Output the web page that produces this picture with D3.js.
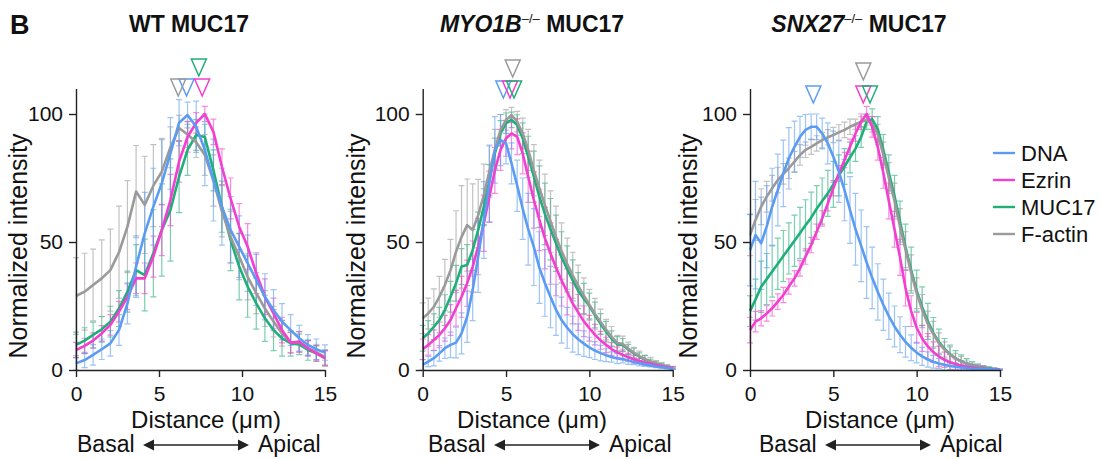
<!DOCTYPE html>
<html>
<head>
<meta charset="utf-8">
<script src="https://cdn.jsdelivr.net/npm/d3@7"></script>
<style>
body { margin: 0; background: #fff; }
svg { font-family: "Liberation Sans", Arial, sans-serif; }
</style>
</head>
<body>
<svg id="chart" width="1100" height="459"></svg>
<script>
// line-scan profiles, mean and SD per channel
const channels = ["DNA", "Ezrin", "MUC17", "F-actin"];
const channelColors = ["#5b9cf2", "#f23fd0", "#1faf78", "#9a9a9a"];
const drawOrder = ["MUC17", "F-actin", "Ezrin", "DNA"];

// WT: 30 samples
const distWT = [0, 0.52, 1.03, 1.55, 2.07, 2.59, 3.10, 3.62, 4.14, 4.66, 5.17, 5.69, 6.21, 6.72, 7.24,
    7.76, 8.28, 8.79, 9.31, 9.83, 10.34, 10.86, 11.38, 11.90, 12.41, 12.93, 13.45, 13.97, 14.48, 15];
const wtDNA = [2.6, 3.9, 5.9, 8.1, 10.4, 15.6, 26, 40.4, 53.4, 63.8, 73, 84.6, 96.6, 99.6, 95, 86, 74.2, 63.8, 54.7, 48.2, 41.7, 35.2, 28.6, 23.4, 18.9, 15.6, 12.4, 9.8, 8.1, 6.8];
const wtDNAsd = [3, 3, 4, 4, 5, 6, 8, 12, 16, 15, 17, 14, 9, 5, 10, 14, 16, 15, 13, 12, 11, 10, 9, 8, 7, 6, 5, 4, 4, 3];
const wtEzrin = [7.8, 9.4, 11.5, 14.3, 17.6, 22.8, 28.6, 35.8, 35.8, 44.3, 54.7, 66.4, 81.4, 91.1, 96.5, 100, 93, 79.4, 67, 56, 48.2, 37.8, 28.6, 22.1, 15.6, 10.7, 11, 8.5, 6.5, 4.6];
const wtEzrinSd = [3, 3, 3, 3, 4, 4, 5, 6, 6, 8, 10, 10, 8, 6, 4, 3, 5, 7, 8, 9, 9, 8, 7, 6, 5, 4, 4, 3, 3, 3];
const wtMUC17 = [9.8, 11.5, 13.7, 15.9, 18.9, 24, 30.6, 39, 37.1, 45.6, 54.7, 62.5, 75.5, 86, 91.8, 91, 78, 63.8, 50.8, 40.4, 32.6, 26, 20.2, 15.6, 12.4, 10.4, 10, 7.8, 6.5, 4.6];
const wtMUC17sd = [5, 5, 5, 5, 6, 7, 8, 10, 14, 17, 18, 20, 14, 10, 6, 5, 8, 10, 12, 13, 12, 10, 9, 8, 7, 5, 4, 4, 3, 3];
const wtFactin = [28.9, 30.6, 33.2, 35.8, 39, 46, 56, 69.7, 64.5, 72, 77.5, 87, 94.5, 92, 89, 84, 74, 62, 52, 44.3, 36.4, 30, 24, 18.9, 14.3, 10.7, 11, 8.5, 7, 5];
const wtFactinSd = [15, 15, 14, 15, 16, 18, 18, 18, 19, 16, 13, 8, 5, 5, 6, 8, 10, 10, 10, 9, 9, 8, 7, 6, 5, 4, 4, 3, 3, 3];
const wtPeaks = [6.66, 7.6, 7.4, 6.16];

// knockouts: 46 samples
const distKO = [0, 0.33, 0.67, 1, 1.33, 1.67, 2, 2.33, 2.67, 3, 3.33, 3.67, 4, 4.33, 4.67, 5, 5.33, 5.67, 6, 6.33,
    6.67, 7, 7.33, 7.67, 8, 8.33, 8.67, 9, 9.33, 9.67, 10, 10.33, 10.67, 11, 11.33, 11.67, 12, 12.33, 12.67, 13,
    13.33, 13.67, 14, 14.33, 14.67, 15];

const myoDNA = [2, 3.3, 4.6, 6.5, 8.5, 9.8, 10.7, 14.3, 20.8, 31.3, 44.3, 58.6, 72.9, 86, 89.8, 88.5, 80.7, 72, 63, 55, 48, 40, 34, 28.5, 23.5, 19.5, 16.5, 14, 12, 10.3, 8.8, 7.6, 6.6, 5.8, 5.1, 4.5, 4.3, 3.7, 3.1, 2.6, 2.2, 1.8, 1.4, 1.1, 0.8, 0.5];
const myoDNAsd = [2, 2, 3, 3, 4, 5, 6, 8, 10, 12, 14, 15, 15, 13, 10, 8, 8, 10, 12, 14, 15, 14, 13, 12, 10, 9, 8, 7, 6, 5, 4, 3.5, 3, 2.5, 2, 2, 1.5, 1.5, 1, 1, 0.8, 0.6, 0.5, 0.4, 0.3, 0.2];
const myoEzrin = [8.1, 9.8, 11.7, 13.7, 16.3, 19.5, 24.1, 28.6, 33.9, 40.4, 48.2, 57.3, 67.7, 78, 86, 90.5, 92.4, 91.1, 84.6, 75.5, 66.4, 58.6, 51.5, 45.5, 40, 35, 30.5, 26, 22.5, 19, 16.3, 13.8, 11.6, 9.8, 8.2, 6.9, 5.9, 5, 4.2, 3.5, 2.9, 2.4, 1.9, 1.5, 1.1, 0.8];
const myoEzrinSd = [4, 4, 4, 5, 5, 6, 7, 8, 9, 10, 11, 11, 10, 9, 8, 7, 6, 7, 8, 10, 11, 12, 12, 12, 11, 10, 9, 8, 7, 6, 5, 4, 3.5, 3, 2.5, 2, 2, 1.5, 1.5, 1, 1, 0.8, 0.6, 0.5, 0.4, 0.3];
const myoMUC17 = [12.4, 14.3, 16.9, 19.5, 23.4, 28.6, 33.9, 40.4, 41, 46.9, 54.7, 63.8, 74.2, 84.6, 92.4, 96.4, 97.7, 95.7, 90.5, 83.3, 75.5, 67.7, 61, 55, 49.5, 44, 39.5, 35, 31, 27.8, 25, 21.5, 18, 15, 12.3, 10, 9.8, 8, 6.5, 5.2, 4.1, 3.2, 2.5, 1.8, 1.2, 0.8];
const myoMUC17sd = [5, 5, 5, 5, 6, 6, 7, 7, 8, 8, 7, 7, 6, 6, 5, 4, 3, 4, 6, 8, 10, 12, 12, 12, 11, 10, 9, 8, 7, 6, 5, 5, 4, 4, 3, 3, 2.5, 2, 2, 1.5, 1.5, 1, 1, 0.8, 0.6, 0.5];
const myoFactin = [20.2, 22.1, 24.7, 28.6, 33.2, 39, 46.2, 52, 56.6, 54.7, 60.5, 68.4, 77.5, 86, 93.8, 97.7, 99.6, 97, 92.4, 86, 78, 71, 64.5, 58, 52, 46.5, 41.5, 37, 33, 29, 25.5, 22, 18.8, 15.8, 13, 10.5, 10.2, 8.4, 6.8, 5.4, 4.3, 3.4, 2.6, 1.9, 1.3, 0.8];
const myoFactinSd = [6, 6, 7, 8, 10, 12, 16, 20, 18, 18, 14, 12, 10, 8, 6, 4, 3, 4, 6, 8, 10, 11, 12, 12, 12, 11, 10, 9, 8, 7, 6, 6, 5, 4, 4, 3, 3, 2.5, 2, 2, 1.5, 1.5, 1, 1, 0.8, 0.6];
const myoPeaks = [4.84, 5.24, 5.48, 5.4];

const snxDNA = [46.9, 52.7, 49.5, 56, 63.8, 70.3, 76.8, 82.7, 87.2, 91.1, 93.8, 95, 95, 92.4, 88.5, 83.3, 77.5, 70.3, 62.5, 55, 48.5, 42, 36, 30.5, 25.5, 21, 17, 13.8, 11, 8.7, 6.8, 5.3, 4.1, 3.2, 2.5, 2, 1.6, 1.3, 1, 0.8, 0.6, 0.5, 0.4, 0.3, 0.2, 0.1];
const snxDNAsd = [14, 21, 18, 16, 15, 14, 13, 12, 10, 8, 6, 5, 5, 6, 8, 10, 12, 12, 13, 14, 14, 14, 12, 11, 10, 9, 8, 7, 6, 5, 4, 3.5, 3, 2.5, 2, 2, 1.5, 1.5, 1, 1, 1, 0.8, 0.6, 0.5, 0.4, 0.3];
const snxEzrin = [15.6, 18.9, 20.2, 22.1, 24.1, 26.7, 29.3, 32.6, 35.8, 39.7, 44.3, 48.8, 54, 59.2, 65.1, 71, 76.8, 82, 87.2, 92.4, 97, 100, 95, 87, 77, 66, 55, 44, 32, 23, 16.5, 12.3, 9.2, 7, 5.3, 4, 3, 2.3, 1.7, 1.3, 1, 0.7, 0.5, 0.3, 0.2, 0.1];
const snxEzrinSd = [5, 4, 3, 3, 3, 3, 3, 3, 3, 3, 3, 3, 3, 3, 3, 3, 3, 3, 3, 3, 3, 3, 4, 5, 6, 7, 7, 7, 7, 6, 6, 5, 5, 4, 4, 3, 3, 2, 2, 1.5, 1, 1, 0.8, 0.6, 0.4, 0.2];
const snxMUC17 = [23, 27.5, 32.5, 35.5, 38.5, 41.5, 44.5, 47.5, 50.5, 53.5, 56.5, 59.5, 63, 66, 69, 72.5, 76, 79.5, 83, 86.5, 91, 97, 98, 94, 86, 77, 68, 58, 48, 39, 31, 24.5, 19, 14.5, 11, 8.3, 6.2, 4.6, 3.4, 2.5, 1.8, 1.3, 0.9, 0.6, 0.3, 0.1];
const snxMUC17sd = [6, 8, 10, 10, 10, 10, 10, 10, 10, 10, 10, 10, 9, 9, 9, 9, 8, 7, 6, 5, 4, 3, 4, 5, 6, 7, 8, 8, 9, 9, 8, 8, 7, 6, 5, 4, 3.5, 3, 2.5, 2, 1.5, 1, 0.8, 0.6, 0.4, 0.2];
const snxFactin = [52.7, 58.6, 63.8, 67.7, 71, 74.2, 76.6, 78.8, 81.4, 84, 86, 87.2, 88.5, 89.8, 90.9, 91.8, 92.8, 93.8, 95, 96, 97, 97.7, 96, 92, 84, 75, 66, 56, 47, 38, 30, 23.5, 18, 14, 10.5, 8, 6, 4.5, 3.3, 2.4, 1.7, 1.2, 0.8, 0.5, 0.3, 0.1];
const snxFactinSd = [8, 8, 7, 6, 5, 5, 4, 4, 4, 4, 3, 3, 3, 3, 3, 3, 3, 3, 3, 2, 2, 2, 3, 4, 5, 6, 7, 7, 7, 7, 6, 6, 5, 5, 4, 3, 3, 2, 2, 1.5, 1, 1, 0.8, 0.6, 0.4, 0.2];
const snxPeaks = [3.8, 6.8, 7.2, 6.8];

const xTicks = [0, 5, 10, 15];
const yTicks = [0, 50, 100];

function series(dist, means, sds){
    return channels.map((name, c) => ({
        name: name,
        color: channelColors[c],
        points: dist.map((d, i) => ({x: d, m: means[c][i], s: sds[c][i]}))
    }));
}

function ProfilePanel(){
    var data;
    var peaks;
    var title;
    var layout;

    const yTop = 88.4, yBottom = 370;

    function panel(selection){
        const L = layout;
        const x = d3.scaleLinear().domain([0, 15]).range([L.left, L.right]);
        const y = d3.scaleLinear().domain([0, 110]).range([yBottom, yTop]);

        const g = selection.append("g");

        // error bars under the lines
        const ordered = drawOrder.map(n => data.find(s => s.name === n));
        ordered.forEach(s => {
            const eb = g.append("g")
                .attr("stroke", s.color)
                .attr("stroke-width", 1.2)
                .attr("stroke-opacity", 0.6)
                .attr("fill", "none");
            s.points.forEach(p => {
                const lo = y(Math.max(0, p.m - p.s)), hi = y(p.m + p.s), px = x(p.x);
                eb.append("path")
                    .attr("d", `M${px},${lo}V${hi}M${px - 3},${hi}H${px + 3}M${px - 3},${lo}H${px + 3}`);
            });
        });

        const line = d3.line()
            .x(d => x(d.x))
            .y(d => y(d.m));

        ordered.forEach(s => {
            g.append("path")
                .datum(s.points)
                .attr("d", line)
                .attr("fill", "none")
                .attr("stroke", s.color)
                .attr("stroke-width", 2.6)
                .attr("stroke-linejoin", "round");
        });

        // axes
        const xAxis = g.append("g")
            .attr("transform", `translate(0,${yBottom})`)
            .call(d3.axisBottom(x).tickValues(xTicks).tickSize(7).tickSizeOuter(0).tickPadding(9));
        const yAxis = g.append("g")
            .attr("transform", `translate(${L.left},0)`)
            .call(d3.axisLeft(y).tickValues(yTicks).tickSize(7).tickSizeOuter(0).tickPadding(6));
        [xAxis, yAxis].forEach(a => {
            a.selectAll("path, line").attr("stroke", "#222").attr("stroke-width", 1.4);
            a.selectAll("text").attr("font-size", 21).attr("fill", "#111")
                .attr("font-family", "Liberation Sans, Arial, sans-serif");
        });

        // peak markers
        peaks.forEach((v, c) => {
            const tip = channels[c] === L.upper ? L.tipHigh : L.tipLow;
            const px = x(v);
            g.append("path")
                .attr("d", `M${px - 7.5},${tip - 17}L${px + 7.5},${tip - 17}L${px},${tip}Z`)
                .attr("fill", "none")
                .attr("stroke", channelColors[c])
                .attr("stroke-width", 1.5);
        });

        // title
        const t = g.append("text")
            .attr("x", L.titleX).attr("y", 32)
            .attr("text-anchor", "middle")
            .attr("font-size", 23).attr("font-weight", "bold").attr("fill", "#111");
        title.forEach(part => {
            const ts = t.append("tspan").text(part[0]);
            if (part[1] === "italic") ts.attr("font-style", "italic");
            if (part[1] === "sup") ts.attr("font-size", 13).attr("dy", -9).attr("font-weight", "normal");
            if (part[1] === "after") ts.attr("dy", 9);
        });

        // axis titles
        g.append("text")
            .attr("transform", `translate(${L.ylabX},246) rotate(-90)`)
            .attr("text-anchor", "middle")
            .attr("font-size", 25).attr("fill", "#111")
            .text("Normalized intensity");
        g.append("text")
            .attr("x", L.distX).attr("y", 428)
            .attr("text-anchor", "middle")
            .attr("font-size", 24).attr("fill", "#111")
            .text("Distance (μm)");

        // basal <-> apical
        const bx = L.basalX, ay = 445;
        g.append("text").attr("x", bx).attr("y", 452).attr("font-size", 23).attr("fill", "#111").text("Basal");
        g.append("text").attr("x", bx + 181).attr("y", 452).attr("font-size", 23).attr("fill", "#111").text("Apical");
        g.append("line")
            .attr("x1", bx + 72).attr("x2", bx + 166).attr("y1", ay).attr("y2", ay)
            .attr("stroke", "#222").attr("stroke-width", 1.6);
        g.append("path")
            .attr("d", `M${bx + 66},${ay}l11,-5.5v11Z M${bx + 172},${ay}l-11,-5.5v11Z`)
            .attr("fill", "#222");
    }

    panel.data = function(val){
        data = val;
        return panel;
    }

    panel.peaks = function(val){
        peaks = val;
        return panel;
    }

    panel.title = function(val){
        title = val;
        return panel;
    }

    panel.layout = function(val){
        layout = val;
        return panel;
    }

    return panel;
}

const svg = d3.select("#chart");

svg.append("text")
    .attr("x", 10).attr("y", 34)
    .attr("font-size", 27).attr("font-weight", "bold").attr("fill", "#111")
    .text("B");

svg.call(ProfilePanel()
    .data(series(distWT, [wtDNA, wtEzrin, wtMUC17, wtFactin], [wtDNAsd, wtEzrinSd, wtMUC17sd, wtFactinSd]))
    .peaks(wtPeaks)
    .title([["WT MUC17", "normal"]])
    .layout({left: 76, right: 325, titleX: 189, ylabX: 27, distX: 206, basalX: 77, upper: "MUC17", tipLow: 96, tipHigh: 76}));

svg.call(ProfilePanel()
    .data(series(distKO, [myoDNA, myoEzrin, myoMUC17, myoFactin], [myoDNAsd, myoEzrinSd, myoMUC17sd, myoFactinSd]))
    .peaks(myoPeaks)
    .title([["MYO1B", "italic"], ["–/–", "sup"], [" MUC17", "after"]])
    .layout({left: 422.7, right: 672.7, titleX: 532, ylabX: 365, distX: 532, basalX: 428, upper: "F-actin", tipLow: 98, tipHigh: 77}));

svg.call(ProfilePanel()
    .data(series(distKO, [snxDNA, snxEzrin, snxMUC17, snxFactin], [snxDNAsd, snxEzrinSd, snxMUC17sd, snxFactinSd]))
    .peaks(snxPeaks)
    .title([["SNX27", "italic"], ["–/–", "sup"], [" MUC17", "after"]])
    .layout({left: 750, right: 1000, titleX: 859, ylabX: 697, distX: 880, basalX: 759, upper: "F-actin", tipLow: 103, tipHigh: 80}));

// legend
const legend = svg.append("g");
channels.forEach((name, c) => {
    const ly = 153 + c * 27;
    legend.append("line")
        .attr("x1", 993).attr("x2", 1015).attr("y1", ly).attr("y2", ly)
        .attr("stroke", channelColors[c]).attr("stroke-width", 2.4);
    legend.append("text")
        .attr("x", 1021).attr("y", ly)
        .attr("dy", "0.35em")
        .attr("font-size", 22).attr("fill", "#111")
        .text(name);
});
</script>
</body>
</html>
